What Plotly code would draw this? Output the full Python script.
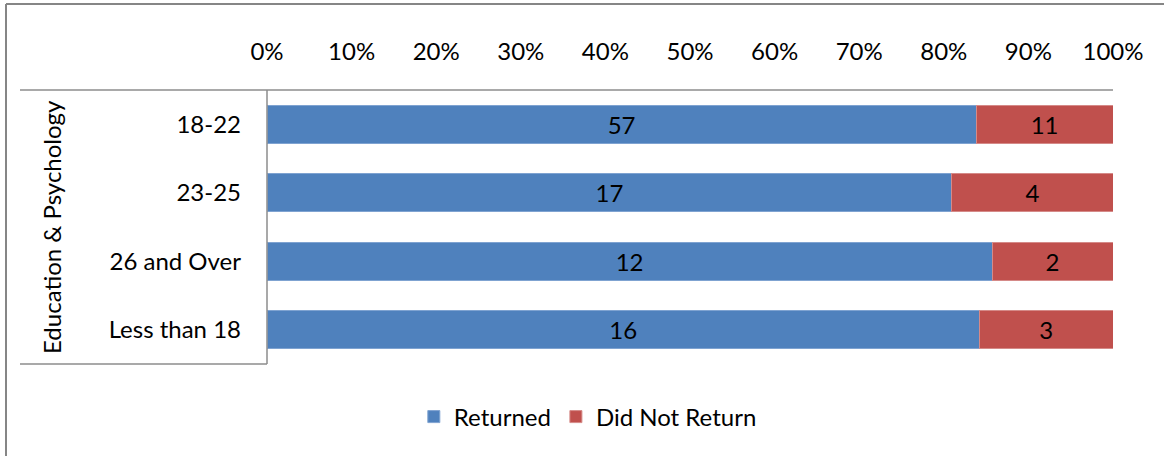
import plotly.graph_objects as go

# Data
age_groups = ["18-22", "23-25", "26 and Over", "Less than 18"]
returned = [57, 17, 12, 16]
did_not_return = [11, 4, 2, 3]
group_label = "Education & Psychology"
x_ticks = [0, 10, 20, 30, 40, 50, 60, 70, 80, 90, 100]

FONT = "Lato"
FS = 24
W, H = 1164, 456
L, R, T, B = 267, 51, 90, 92
plot_w = W - L - R
plot_h = H - T - B

fig = go.Figure()
fig.add_trace(go.Bar(
    y=age_groups, x=returned, name="Returned", orientation="h",
    marker=dict(color="#4F81BD", line=dict(color="#7FA3D1", width=1)),
    text=returned, textposition="inside", insidetextanchor="middle",
    textfont=dict(color="#000", size=FS, family=FONT),
))
fig.add_trace(go.Bar(
    y=age_groups, x=did_not_return, name="Did Not Return", orientation="h",
    marker=dict(color="#C0504D", line=dict(color="#D58A88", width=1)),
    text=did_not_return, textposition="inside", insidetextanchor="middle",
    textfont=dict(color="#000", size=FS, family=FONT),
))

# pixel -> paper helpers for the decoration lines
def px_x(p):
    return (p - L) / plot_w

def px_y(p):
    return (H - B - p) / plot_h

line_inner = dict(color="#8C8C8C", width=1.5)
line_outer = dict(color="#868686", width=2)

fig.update_layout(
    width=W, height=H,
    barmode="stack", barnorm="percent", bargap=0.44,
    paper_bgcolor="#fff", plot_bgcolor="#fff",
    margin=dict(l=L, r=R, t=T, b=B, autoexpand=False),
    font=dict(family=FONT, size=FS, color="#000"),
    xaxis=dict(
        side="top", range=[0, 100], tickvals=x_ticks,
        ticktext=[f"{v}%" for v in x_ticks], tickangle=0,
        showgrid=False, zeroline=False, showline=False,
        ticks="", ticklabelstandoff=24, fixedrange=True, automargin=False,
    ),
    yaxis=dict(
        categoryorder="array", categoryarray=age_groups[::-1],
        showgrid=False, zeroline=False, showline=False,
        ticks="", ticklabelstandoff=25, fixedrange=True, automargin=False,
    ),
    legend=dict(
        orientation="h", traceorder="normal",
        xref="container", x=0.505, xanchor="center",
        yref="container", y=(H - 417) / H, yanchor="middle",
        font=dict(size=FS),
        itemclick=False, itemdoubleclick=False,
    ),
    showlegend=True,
    annotations=[dict(
        text=group_label, textangle=-90, showarrow=False,
        xref="paper", yref="paper", x=px_x(51), y=0.5,
        xanchor="center", yanchor="middle", font=dict(size=FS),
    )],
    shapes=[
        # category table lines
        dict(type="line", xref="paper", yref="paper", x0=px_x(20), x1=1, y0=1, y1=1, line=line_inner),
        dict(type="line", xref="paper", yref="paper", x0=0, x1=0, y0=0, y1=1, line=line_inner),
        dict(type="line", xref="paper", yref="paper", x0=px_x(20), x1=0, y0=0, y1=0, line=line_inner),
        # outer chart border (left and top edges)
        dict(type="line", xref="paper", yref="paper", x0=px_x(6), x1=px_x(6),
             y0=px_y(4), y1=px_y(H + 10), line=line_outer),
        dict(type="line", xref="paper", yref="paper", x0=px_x(6), x1=px_x(W + 10),
             y0=px_y(4), y1=px_y(4), line=line_outer),
    ],
)

# drop the browser's default body margin so the figure sits at the page corner
fig.write_html(
    "out.html",
    config={"displayModeBar": False},
    post_script="document.body.style.margin='0';",
)
